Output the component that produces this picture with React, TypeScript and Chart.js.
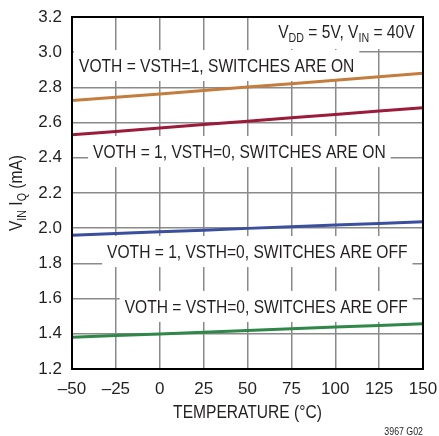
import React, { useEffect, useRef } from "react";
import { Chart, registerables } from "chart.js";

Chart.register(...registerables);

const temperatures = [-50, -25, 0, 25, 50, 75, 100, 125, 150];
const bothOn = [2.725, 2.744, 2.763, 2.783, 2.802, 2.821, 2.841, 2.860, 2.880];
const vothOn = [2.531, 2.550, 2.569, 2.589, 2.608, 2.627, 2.646, 2.666, 2.685];
const vothOff = [1.960, 1.970, 1.980, 1.989, 1.999, 2.008, 2.018, 2.027, 2.037];
const bothOff = [1.380, 1.390, 1.399, 1.409, 1.419, 1.428, 1.438, 1.447, 1.457];

const xTicks = [-50, -25, 0, 25, 50, 75, 100, 125, 150];
const yTicks = [1.2, 1.4, 1.6, 1.8, 2.0, 2.2, 2.4, 2.6, 2.8, 3.0, 3.2];

const seriesColors = ["#c47d3c", "#9c1a3a", "#3a4f9e", "#2f8748"];

// label anchors in data units: [x (left), y (centre)]
const curveLabels = [
  { text: "VOTH = VSTH=1, SWITCHES ARE ON", x: -46, y: 2.916 },
  { text: "VOTH = 1, VSTH=0, SWITCHES ARE ON", x: -38, y: 2.427 },
  { text: "VOTH = 1, VSTH=0, SWITCHES ARE OFF", x: -30, y: 1.859 },
  { text: "VOTH = VSTH=0, SWITCHES ARE OFF", x: -20, y: 1.547 },
];

const TEXT = "#231f20";
const SQ = 0.82;
const MAIN = 19;
const SUB = 13;

type Piece = { t: string; sub?: boolean };

function pieceWidth(ctx: CanvasRenderingContext2D, p: Piece) {
  ctx.font = `${p.sub ? SUB : MAIN}px "Liberation Sans", Arial, sans-serif`;
  return ctx.measureText(p.t).width * SQ;
}

function richWidth(ctx: CanvasRenderingContext2D, pieces: Piece[]) {
  return pieces.reduce((s, p) => s + pieceWidth(ctx, p), 0);
}

function drawRich(ctx: CanvasRenderingContext2D, pieces: Piece[], x: number, y: number) {
  let cx = x;
  for (const p of pieces) {
    const w = pieceWidth(ctx, p);
    ctx.save();
    ctx.translate(cx, y + (p.sub ? 5 : 0));
    ctx.scale(SQ, 1);
    ctx.font = `${p.sub ? SUB : MAIN}px "Liberation Sans", Arial, sans-serif`;
    ctx.fillStyle = TEXT;
    ctx.textBaseline = "middle";
    ctx.textAlign = "left";
    ctx.fillText(p.t, 0, 0);
    ctx.restore();
    cx += w;
  }
}

const annotations = {
  id: "annotations",
  beforeDatasetsDraw(chart: any) {
    const ctx: CanvasRenderingContext2D = chart.ctx;
    const xs = chart.scales.x;
    const ys = chart.scales.y;
    ctx.save();
    for (const l of curveLabels) {
      const px = xs.getPixelForValue(l.x);
      const py = ys.getPixelForValue(l.y);
      const w = richWidth(ctx, [{ t: l.text }]);
      ctx.fillStyle = "#ffffff";
      ctx.fillRect(px - 5, py - 17, w + 10, 31);
      drawRich(ctx, [{ t: l.text }], px, py);
    }
    const cond: Piece[] = [
      { t: "V" }, { t: "DD", sub: true }, { t: " = 5V, V" }, { t: "IN", sub: true }, { t: " = 40V" },
    ];
    const cw = richWidth(ctx, cond);
    const rx = xs.getPixelForValue(145.2);
    const ry = ys.getPixelForValue(3.109);
    ctx.fillStyle = "#ffffff";
    ctx.fillRect(rx - cw - 10, chart.chartArea.top + 1, cw + 16, ry - chart.chartArea.top + 15);
    drawRich(ctx, cond, rx - cw, ry);
    ctx.restore();
  },
  afterDatasetsDraw(chart: any) {
    const ctx: CanvasRenderingContext2D = chart.ctx;
    const a = chart.chartArea;
    ctx.save();
    ctx.strokeStyle = "#000000";
    ctx.lineWidth = 2;
    ctx.strokeRect(a.left, a.top, a.right - a.left, a.bottom - a.top);

    // x title
    const xt: Piece[] = [{ t: "TEMPERATURE (°C)" }];
    const xw = richWidth(ctx, xt);
    drawRich(ctx, xt, (a.left + a.right) / 2 - xw / 2, a.bottom + 44);

    // y title
    const yt: Piece[] = [
      { t: "V" }, { t: "IN", sub: true }, { t: " I" }, { t: "Q", sub: true }, { t: " (mA)" },
    ];
    const yw = richWidth(ctx, yt);
    ctx.save();
    ctx.translate(17, (a.top + a.bottom) / 2);
    ctx.rotate(-Math.PI / 2);
    drawRich(ctx, yt, -yw / 2, 0);
    ctx.restore();

    // figure id
    ctx.save();
    ctx.font = '11px "Liberation Sans", Arial, sans-serif';
    ctx.fillStyle = TEXT;
    ctx.textAlign = "right";
    ctx.textBaseline = "middle";
    ctx.translate(a.right, 432);
    ctx.scale(0.8, 1);
    ctx.fillText("3967 G02", 0, 0);
    ctx.restore();
    ctx.restore();
  },
};

function zeroPad(s: any) {
  s.paddingLeft = 0;
  s.paddingRight = 0;
  s.paddingTop = 0;
  s.paddingBottom = 0;
}

export default function App() {
  const ref = useRef<HTMLCanvasElement>(null);
  useEffect(() => {
    document.body.style.margin = "0";
    const mk = (vals: number[]) => temperatures.map((t, i) => ({ x: t, y: vals[i] }));
    const all = [bothOn, vothOn, vothOff, bothOff];
    const chart = new Chart(ref.current as HTMLCanvasElement, {
      type: "line",
      data: {
        datasets: all.map((v, i) => ({
          data: mk(v),
          borderColor: seriesColors[i],
          borderWidth: 3,
          pointRadius: 0,
          tension: 0,
          fill: false,
        })),
      },
      options: {
        responsive: false,
        animation: false,
        layout: { padding: { left: 0, right: 16, top: 17, bottom: 0 } },
        plugins: { legend: { display: false }, tooltip: { enabled: false } },
        scales: {
          x: {
            type: "linear",
            min: -50,
            max: 150,
            afterFit: (s: any) => { s.height = 67; zeroPad(s); },
            afterBuildTicks: (s: any) => { s.ticks = xTicks.map((v) => ({ value: v })); },
            grid: { color: "#8a8a8a", lineWidth: 1.5, drawTicks: false },
            border: { display: false },
            ticks: {
              autoSkip: false,
              maxRotation: 0,
              padding: 10,
              color: TEXT,
              font: { family: '"Liberation Sans", Arial, sans-serif', size: 17 },
              callback: (v: any) => (v < 0 ? "–" + Math.abs(v) : String(v)),
            },
          },
          y: {
            min: 1.2,
            max: 3.2,
            afterFit: (s: any) => { s.width = 72; zeroPad(s); },
            afterBuildTicks: (s: any) => { s.ticks = yTicks.map((v) => ({ value: v })); },
            grid: { color: "#8a8a8a", lineWidth: 1.5, drawTicks: false },
            border: { display: false },
            ticks: {
              padding: 10,
              color: TEXT,
              font: { family: '"Liberation Sans", Arial, sans-serif', size: 17 },
              callback: (v: any) => Number(v).toFixed(1),
            },
          },
        },
      },
      plugins: [annotations],
    });
    return () => chart.destroy();
  }, []);
  return (
    <div style={{ position: "fixed", left: 0, top: 0, width: 439, height: 436, background: "#fff" }}>
      <canvas ref={ref} width={439} height={436} style={{ width: 439, height: 436 }} />
    </div>
  );
}
